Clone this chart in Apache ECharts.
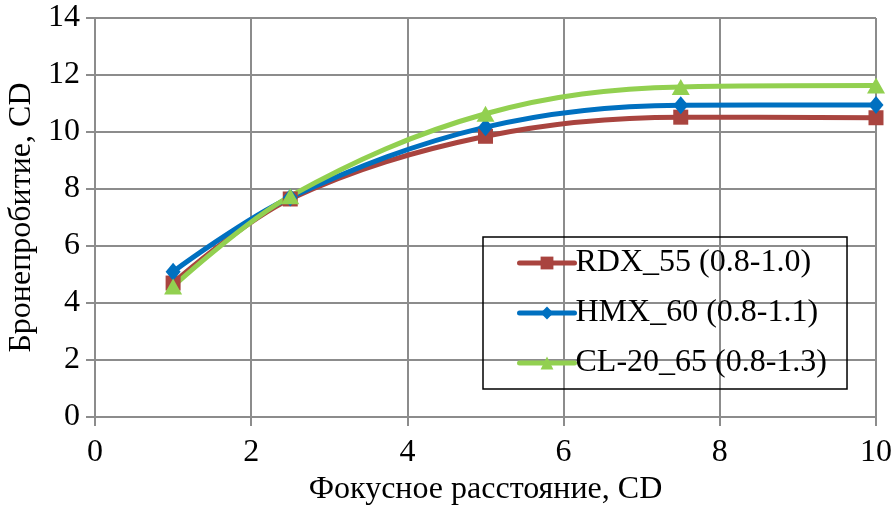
<!DOCTYPE html>
<html>
<head>
<meta charset="utf-8">
<script src="https://cdn.jsdelivr.net/npm/echarts@6/dist/echarts.min.js"></script>
<style>
  html, body { margin: 0; padding: 0; background: #fff; }
  #chart { width: 894px; height: 506px; }
</style>
</head>
<body>
<div id="chart"></div>
<script>
// фокусное расстояние, CD
var focusDist = [1, 2.5, 5, 7.5, 10];
// бронепробитие, CD
var rdx55 = [4.7, 7.65, 9.85, 10.52, 10.5];
var hmx60 = [5.1, 7.7, 10.17, 10.94, 10.95];
var cl2065 = [4.58, 7.75, 10.64, 11.58, 11.63];

var seriesNames = ['RDX_55 (0.8-1.0)', 'HMX_60 (0.8-1.1)', 'CL-20_65 (0.8-1.3)'];
var xTicks = [0, 2, 4, 6, 8, 10];
var yTicks = [0, 2, 4, 6, 8, 10, 12, 14];

function pairs(vals) {
	return focusDist.map(function (x, i) { return [x, vals[i]]; });
}

var FONT = '"Liberation Serif", "Times New Roman", serif';
var chart = echarts.init(document.getElementById('chart'));

chart.setOption({
	animation: false,
	textStyle: { fontFamily: FONT },
	grid: { left: 95, right: 18, top: 18, bottom: 89, containLabel: false, outerBoundsMode: 'none' },
	legend: {
		orient: 'vertical',
		left: 483,
		top: 237,
		width: 367,
		padding: [10, 20, 10, 34],
		itemGap: 18,
		itemWidth: 55,
		itemHeight: 16,
		borderColor: '#000',
		borderWidth: 1.5,
		lineStyle: { width: 5, cap: 'round' },
		textStyle: { fontFamily: FONT, fontSize: 32, lineHeight: 32, color: '#000', padding: [0, 0, 0, -4] },
		data: seriesNames
	},
	xAxis: {
		type: 'value',
		min: xTicks[0],
		max: xTicks[xTicks.length - 1],
		interval: 2,
		name: 'Фокусное расстояние, CD',
		nameLocation: 'middle',
		nameGap: 55,
		nameTextStyle: { fontFamily: FONT, fontSize: 32, color: '#000' },
		axisLine: { lineStyle: { color: '#8c8c8c', width: 2 } },
		axisTick: { show: true, length: 9, lineStyle: { color: '#8c8c8c', width: 2 } },
		axisLabel: { fontFamily: FONT, fontSize: 32, color: '#000', margin: 20 },
		splitLine: { show: true, lineStyle: { color: '#8c8c8c', width: 2 } }
	},
	yAxis: {
		type: 'value',
		min: yTicks[0],
		max: yTicks[yTicks.length - 1],
		interval: 2,
		name: 'Бронепробитие, CD',
		nameLocation: 'middle',
		nameGap: 51,
		nameTextStyle: { fontFamily: FONT, fontSize: 32, color: '#000' },
		axisLine: { show: true, lineStyle: { color: '#8c8c8c', width: 2 } },
		axisTick: { show: true, length: 9, lineStyle: { color: '#8c8c8c', width: 2 } },
		axisLabel: { fontFamily: FONT, fontSize: 32, color: '#000', margin: 15 },
		splitLine: { show: true, lineStyle: { color: '#8c8c8c', width: 2 } }
	},
	series: [{
		name: seriesNames[0],
		type: 'line',
		smooth: 0.35,
		symbol: 'rect',
		symbolSize: 15,
		lineStyle: { width: 5, color: '#a9443f' },
		itemStyle: { color: '#a9443f' },
		data: pairs(rdx55)
	}, {
		name: seriesNames[1],
		type: 'line',
		smooth: 0.35,
		symbol: 'diamond',
		symbolSize: [15, 18],
		lineStyle: { width: 5, color: '#0070c0' },
		itemStyle: { color: '#0070c0' },
		data: pairs(hmx60)
	}, {
		name: seriesNames[2],
		type: 'line',
		smooth: 0.35,
		symbol: 'triangle',
		symbolSize: [18, 16],
		lineStyle: { width: 5, color: '#92d050' },
		itemStyle: { color: '#92d050' },
		data: pairs(cl2065)
	}]
});
</script>
</body>
</html>
